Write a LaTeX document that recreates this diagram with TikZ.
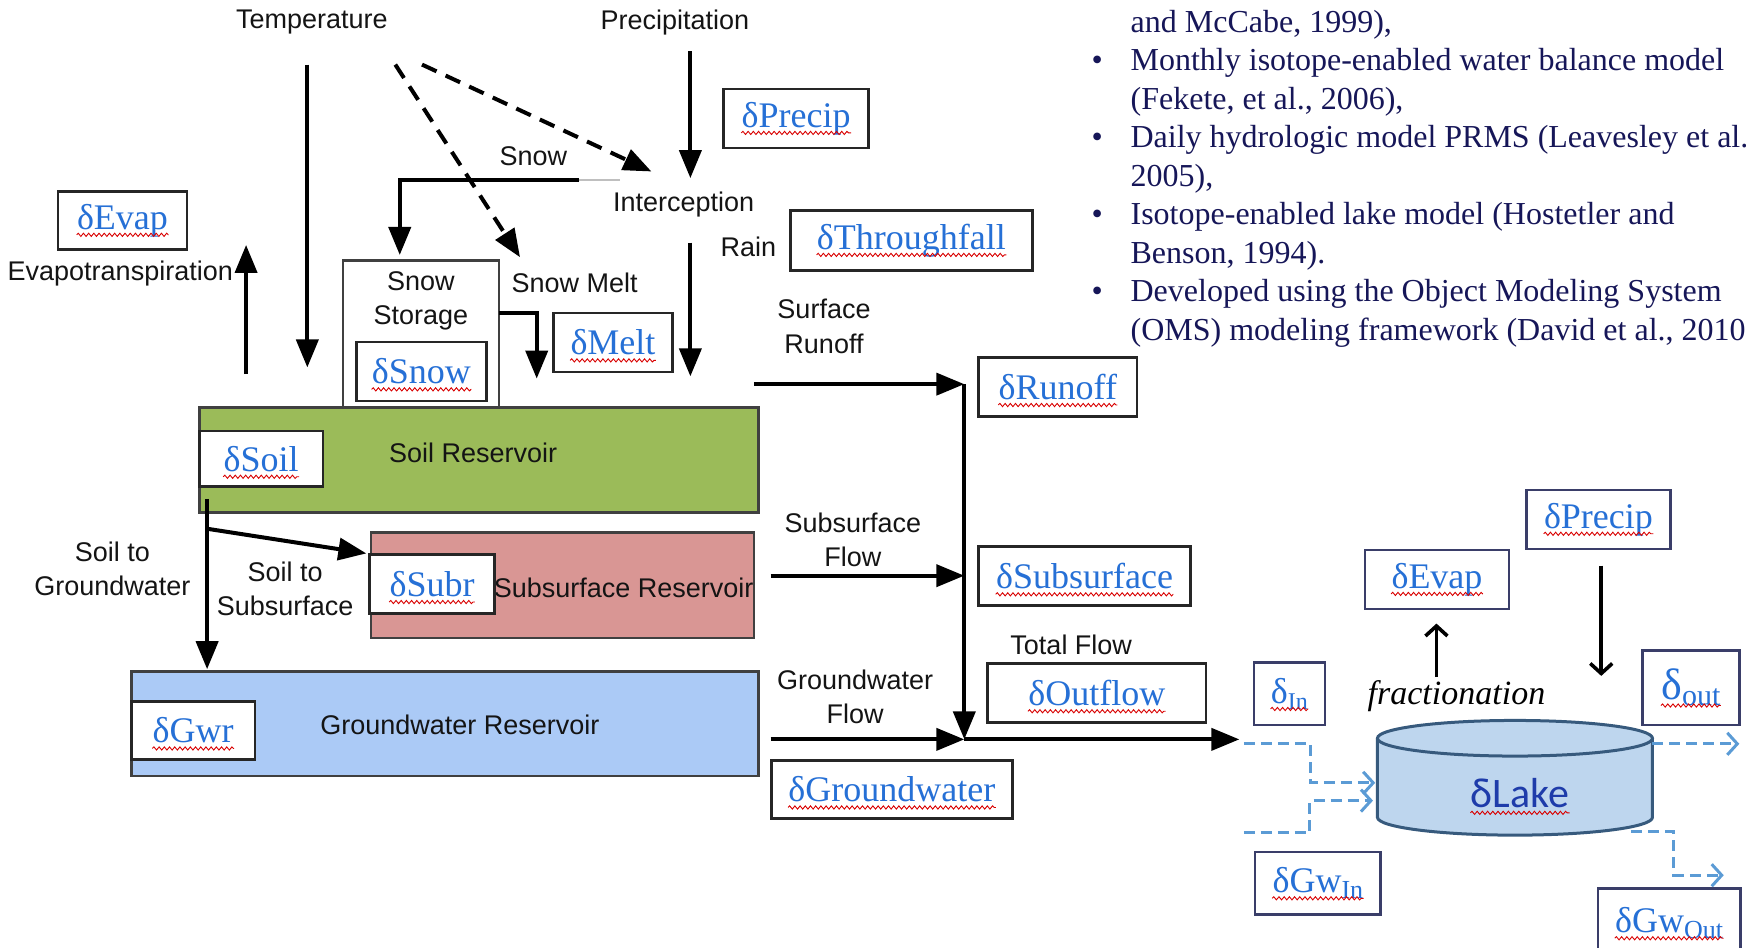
\documentclass[tikz,border=0pt]{standalone}
\usepackage{fontspec}
\setmainfont{Liberation Serif}
\setsansfont{Liberation Sans}
\newfontfamily\lakefont{Carlito}
\usetikzlibrary{arrows.meta,decorations.pathmorphing}

\definecolor{dblue}{RGB}{38,112,214}
\definecolor{navy}{RGB}{22,22,88}
\definecolor{soilgreen}{RGB}{155,187,89}
\definecolor{subpink}{RGB}{217,150,148}
\definecolor{gwblue}{RGB}{171,202,246}
\definecolor{lakefill}{RGB}{190,214,238}
\definecolor{lakeedge}{RGB}{55,90,125}
\definecolor{lakeink}{RGB}{30,60,170}
\definecolor{flowblue}{RGB}{91,155,213}
\definecolor{slate}{RGB}{58,62,105}

% one drawing unit = one pixel of the layout grid
\newcommand\upx{0.55675pt}
\newcommand\dsub[2][12]{\raisebox{-0.35ex}{\fontsize{#1}{#1}\selectfont #2}}
% boxed isotope label: [style] name, centre x, centre y, width, height, text
\newcommand\isobox[7][dbox]{%
  \node[#1, minimum width=#5*\upx, minimum height=#6*\upx] (#2) at (#3,#4) {};
  \node[dtext] (#2-t) at (#2) {#7};
  \draw[squig] ([yshift=-2.8pt]#2-t.base west) -- ([yshift=-2.8pt]#2-t.base east);
}

\begin{document}
\begin{tikzpicture}[x=0.55675pt, y=-0.55675pt,
  lbl/.style={font=\sffamily\fontsize{13.5}{17.25}\selectfont, align=center, inner sep=0, text=black!92},
  dbox/.style={draw=black!85, line width=1.3pt, fill=white, inner sep=0},
  lbox/.style={dbox, draw=slate},
  dtext/.style={font=\fontsize{18}{20}\selectfont, text=dblue, inner sep=0},
  squig/.style={red!85!black, line width=0.45pt, decorate,
    decoration={snake, amplitude=0.8pt, segment length=2.6pt}},
  res/.style={draw=black!75, line width=1.3pt, inner sep=0},
  flow/.style={line width=2pt, -{Triangle[length=14pt,width=11pt]}},
  tempdash/.style={line width=2pt, dash pattern=on 8pt off 5pt, -{Triangle[length=14pt,width=11pt]}},
  lakeflow/.style={draw=flowblue, line width=1.5pt, dash pattern=on 5.5pt off 3pt,
    -{Straight Barb[length=5pt,width=11pt,line width=1.5pt]}},
  lakearrow/.style={line width=1.8pt, -{Straight Barb[length=5pt,width=11pt,line width=1.8pt]}},
  bul/.style={font=\fontsize{16}{19.2}\selectfont, text=navy, inner sep=0, anchor=base west}
]
\useasboundingbox (0,0) rectangle (1568,850.5);

% ---------- storages ----------
\node[res, fill=white, minimum width=140*\upx, minimum height=132*\upx] (store) at (378,300) {};
\node[lbl] (storelbl) at (378,270) {Snow\\Storage};
\node[res, fill=soilgreen, minimum width=502*\upx, minimum height=94*\upx] (soil) at (430,413) {};
\node[res, fill=subpink, minimum width=344*\upx, minimum height=95*\upx] (subr) at (505,525.5) {};
\node[res, fill=gwblue, minimum width=563*\upx, minimum height=94*\upx] (gwr) at (399.5,650) {};
\node[lbl] (soillbl) at (425,407) {Soil Reservoir};
\node[lbl] (subrlbl) at (560,528) {Subsurface Reservoir};
\node[lbl] (gwrlbl) at (413,651) {Groundwater Reservoir};

% ---------- text labels ----------
\node[lbl] (temp) at (280,20) {Temperature};
\node[lbl] (precip) at (606,20) {Precipitation};
\node[lbl] (snowlbl) at (479,140) {Snow};
\node[lbl] (intercept) at (614,184) {Interception};
\node[lbl] (rain) at (672,222) {Rain};
\node[lbl] (et) at (108,246) {Evapotranspiration};
\node[lbl] (meltlbl) at (516,254) {Snow Melt};
\node[lbl] (surf) at (740,293) {Surface\\Runoff};
\node[lbl] (subflow) at (766,485) {Subsurface\\Flow};
\node[lbl] (s2g) at (101,511) {Soil to\\Groundwater};
\node[lbl] (s2s) at (256,529) {Soil to\\Subsurface};
\node[lbl] (total) at (962,579) {Total Flow};
\node[lbl] (gwflow) at (768,626) {Groundwater\\Flow};

% ---------- isotope boxes ----------
\isobox{dPrecip}{715}{106.5}{130}{53}{δPrecip}
\isobox{dEvap}{110}{198}{116}{52}{δEvap}
\isobox{dThrough}{818.5}{216}{217}{54}{δThroughfall}
\isobox{dSnow}{378.5}{333.5}{117}{53}{δSnow}
\isobox{dMelt}{550.5}{307.5}{107}{53}{δMelt}
\isobox{dRunoff}{950}{347.5}{142}{53}{δRunoff}
\isobox{dSoil}{234.5}{412}{111}{50}{δSoil}
\isobox{dSubr}{388}{524.5}{112}{53}{δSubr}
\isobox{dSubsurf}{974}{517.5}{190}{53}{δSubsurface}
\isobox{dOutflow}{985}{622.5}{196}{53}{δOutflow}
\isobox{dGwr}{173.5}{656}{111}{52}{δGwr}
\isobox{dGround}{801}{709}{216}{52}{δGroundwater}
\isobox[lbox]{dIn}{1158}{623}{64}{56}{δ\dsub{In}}
\isobox[lbox]{dEvapL}{1290.5}{520.5}{129}{53}{δEvap}
\isobox[lbox]{dPrecipL}{1435.5}{466.5}{129}{53}{δPrecip}
\isobox[lbox]{dOut}{1518.5}{617.5}{87}{67}{{\fontsize{22}{22}\selectfont δ}\dsub[15]{out}}
\isobox[lbox]{dGwIn}{1183.5}{793}{113}{56}{δGw\dsub[13]{In}}
\isobox[lbox]{dGwOut}{1499}{829}{128}{62}{δGw\dsub[13]{Out}}

% ---------- land-surface connectors ----------
\coordinate (tA) at (276,58);   \coordinate (tB) at (276,330);
\coordinate (etA) at (221,336); \coordinate (etB) at (221,220);
\coordinate (d1A) at (355,58);  \coordinate (d1B) at (467,231);
\coordinate (d2A) at (379,58);  \coordinate (d2B) at (585,154);
\coordinate (pA) at (620,46);   \coordinate (pB) at (620,160);
\coordinate (snA) at (557,162); \coordinate (snB) at (520,162);
\coordinate (snC) at (359,162); \coordinate (snD) at (359,229);
\coordinate (rA) at (620,218);  \coordinate (rB) at (620,338);
\coordinate (mA) at (448,281);  \coordinate (mB) at (482,281); \coordinate (mC) at (482,340);
\draw[flow] (tA) -- (tB);
\draw[flow] (etA) -- (etB);
\draw[tempdash] (d1A) -- (d1B);
\draw[tempdash] (d2A) -- (d2B);
\draw[flow] (pA) -- (pB);
\draw[black!25, line width=1pt] (snA) -- (snB);
\draw[flow] (snB) -- (snC) -- (snD);
\draw[flow] (rA) -- (rB);
\draw[flow] (mA) -- (mB) -- (mC);

% ---------- soil column connectors ----------
\coordinate (sgA) at (186,448); \coordinate (sgB) at (186,601);
\coordinate (ssA) at (187,475); \coordinate (ssB) at (329,497);
\draw[flow] (sgA) -- (sgB);
\draw[flow] (ssA) -- (ssB);

% ---------- routing to the outlet ----------
\coordinate (roA) at (677,345); \coordinate (trTop) at (866,345);
\coordinate (sfA) at (692,517); \coordinate (trMid) at (866,517);
\coordinate (gfA) at (692,664); \coordinate (trBot) at (866,664);
\coordinate (outlet) at (1113,664);
\draw[flow] (roA) -- (trTop);
\draw[flow] (trTop) -- (trBot);
\draw[flow] (sfA) -- (trMid);
\draw[flow] (gfA) -- (trBot);
\draw[flow] (trBot) -- (outlet);

% ---------- lake ----------
\fill[lakefill] (1237,663) rectangle (1484,734);
\fill[lakefill] (1360.5,734) ellipse[x radius=123.5, y radius=16];
\draw[lakeedge, line width=1.5pt] (1237,663) -- (1237,734)
  arc[start angle=180, end angle=0, x radius=123.5, y radius=16] -- (1484,663);
\draw[lakeedge, line width=1.5pt, fill=lakefill] (1360.5,663) ellipse[x radius=123.5, y radius=16];
\node[font=\lakefont\fontsize{21}{21}\selectfont, text=lakeink, inner sep=0] (lake) at (1365,712) {δLake};
\draw[squig] ([yshift=-2.8pt]lake.base west) -- ([yshift=-2.8pt]lake.base east);
\node[font=\itshape\fontsize{17}{17}\selectfont, inner sep=0] (frac) at (1308,625) {fractionation};

\coordinate (evA) at (1290,608); \coordinate (evB) at (1290,560);
\coordinate (prA) at (1438,508); \coordinate (prB) at (1438,607);
\draw[lakearrow] (evA) -- (evB);
\draw[lakearrow] (prA) -- (prB);

\coordinate (in1) at (1117,668); \coordinate (in1k) at (1177,668); \coordinate (in1e) at (1235,703);
\coordinate (in2) at (1117,748); \coordinate (in2k) at (1176,748); \coordinate (in2e) at (1233,719);
\coordinate (o1) at (1484,668);  \coordinate (o1e) at (1562,668);
\coordinate (o2) at (1465,747);  \coordinate (o2k) at (1503,747); \coordinate (o2e) at (1548,786);
\draw[lakeflow] (in1) -- (in1k) |- (in1e);
\draw[lakeflow] (in2) -- (in2k) |- (in2e);
\draw[lakeflow] (o1) -- (o1e);
\draw[lakeflow] (o2) -- (o2k) |- (o2e);

% ---------- model notes ----------
\node[bul] (n1) at (1015,29) {and McCabe, 1999),};
\node[bul] (b2) at (980,63.6) {\textbullet};
\node[bul] (n2) at (1015,63.6) {Monthly isotope-enabled water balance model};
\node[bul] (n3) at (1015,98.2) {(Fekete, et al., 2006),};
\node[bul] (b4) at (980,132.8) {\textbullet};
\node[bul] (n4) at (1015,132.8) {Daily hydrologic model PRMS (Leavesley et al.};
\node[bul] (n5) at (1015,167.4) {2005),};
\node[bul] (b6) at (980,202) {\textbullet};
\node[bul] (n6) at (1015,202) {Isotope-enabled lake model (Hostetler and};
\node[bul] (n7) at (1015,236.6) {Benson, 1994).};
\node[bul] (b8) at (980,271.2) {\textbullet};
\node[bul] (n8) at (1015,271.2) {Developed using the Object Modeling System};
\node[bul] (n9) at (1015,305.8) {(OMS) modeling framework (David et al., 2010};
\end{tikzpicture}
\end{document}
